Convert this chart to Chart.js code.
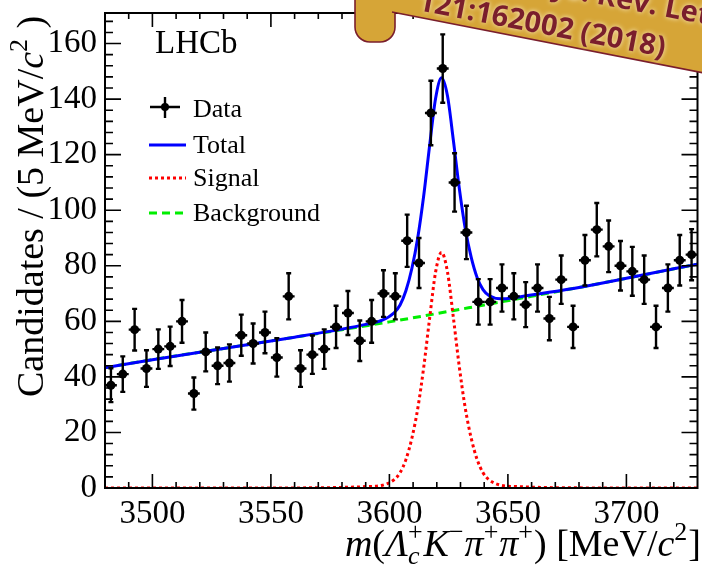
<!DOCTYPE html>
<html lang="en">
<head>
  <meta charset="UTF-8">
  <title>LHCb mass fit</title>
  <script src="https://cdn.jsdelivr.net/npm/chart.js"></script>
  <style>
    body {
      margin: 0;
      background: #fff;
    }
    canvas {
      display: block;
    }
  </style>
</head>
<body>
  <canvas id="massChart" width="702" height="567"></canvas>

  <script>
  // bin centres of the 5 MeV bins, MeV/c^2
  const binCenters = [3482.5, 3487.5, 3492.5, 3497.5, 3502.5, 3507.5, 3512.5, 3517.5, 3522.5, 3527.5,
                      3532.5, 3537.5, 3542.5, 3547.5, 3552.5, 3557.5, 3562.5, 3567.5, 3572.5, 3577.5,
                      3582.5, 3587.5, 3592.5, 3597.5, 3602.5, 3607.5, 3612.5, 3617.5, 3622.5, 3627.5,
                      3632.5, 3637.5, 3642.5, 3647.5, 3652.5, 3657.5, 3662.5, 3667.5, 3672.5, 3677.5,
                      3682.5, 3687.5, 3692.5, 3697.5, 3702.5, 3707.5, 3712.5, 3717.5, 3722.5, 3727.5];
  const candidates = [37, 41, 57, 43, 50, 51, 60, 34, 49, 44,
                      45, 55, 52, 56, 47, 69, 43, 48, 50, 58,
                      63, 53, 60, 70, 69, 89, 81, 135, 151, 110,
                      92, 67, 67, 72, 69, 66, 72, 61, 75, 58,
                      82, 93, 87, 80, 78, 75, 58, 72, 82, 84];
  const candErrors = [6.1, 6.4, 7.5, 6.6, 7.1, 7.1, 7.7, 5.8, 7.0, 6.6,
                      6.7, 7.4, 7.2, 7.5, 6.9, 8.3, 6.6, 6.9, 7.1, 7.6,
                      7.9, 7.3, 7.7, 8.4, 8.3, 9.4, 9.0, 11.6, 12.3, 10.5,
                      9.6, 8.2, 8.2, 8.5, 8.3, 8.1, 8.5, 7.8, 8.7, 7.6,
                      9.1, 9.6, 9.3, 8.9, 8.8, 8.7, 7.6, 8.5, 9.1, 9.2];
  const binHalfWidth = 2.5;

  // fit curves
  const totalMass = [3480, 3500, 3520, 3540, 3560, 3580, 3590, 3597, 3602, 3604.5,
                     3607, 3609.5, 3612, 3614.5, 3617, 3619.5, 3622, 3624.5, 3627, 3629.5,
                     3632, 3634.5, 3637, 3639.5, 3642, 3647, 3654, 3664, 3680, 3700, 3730];
  const totalFit = [43.3, 46.2, 48.9, 51.6, 54.3, 57.2, 58.9, 60.4, 63.1, 65.9,
                    71.1, 79.1, 90.3, 105.4, 123.5, 140.3, 147.7, 141.2, 125.1, 107.8,
                    93.4, 83.1, 75.8, 71.4, 69.3, 68.1, 68.7, 70.0, 72.2, 75.5, 80.6];

  const signalMass = [3480, 3550, 3570, 3580, 3590, 3597, 3602, 3604.5, 3607, 3609.5,
                      3612, 3614.5, 3617, 3619.5, 3622, 3624.5, 3627, 3629.5, 3632, 3634.5,
                      3637, 3639.5, 3642, 3647, 3654, 3664, 3674, 3694, 3730];
  const signalFit = [0, 0.02, 0.08, 0.2, 0.5, 1.0, 3.0, 5.5, 10.3, 18.0,
                     28.8, 43.6, 61.3, 77.8, 84.8, 77.8, 61.3, 43.6, 28.8, 18.0,
                     10.3, 5.5, 3.0, 1.0, 0.5, 0.2, 0.08, 0.02, 0];

  const bkgMass = [3480, 3500, 3520, 3540, 3560, 3580, 3600, 3620, 3640, 3660, 3680, 3700, 3730];
  const bkgFit = [43.3, 46.2, 48.9, 51.6, 54.3, 57.0, 59.8, 62.8, 65.9, 69.0, 72.2, 75.5, 80.6];

  // axis tick labels
  const massTicks = [3500, 3550, 3600, 3650, 3700];
  const countTicks = [0, 20, 40, 60, 80, 100, 120, 140, 160];

  const serif = '"Liberation Serif", "Times New Roman", serif';

  function toPoints(xs, ys) {
    return xs.map((x, i) => ({ x: x, y: ys[i] }));
  }

  // draws text made of pieces (italic, sub/superscripts); returns its width
  function drawRich(ctx, parts, x, y, size, draw) {
    const small = Math.round(size * 0.68);
    let cx = x;
    for (const p of parts) {
      if (p.sub !== undefined || p.sup !== undefined) {
        let w = 0;
        if (p.sup !== undefined) {
          ctx.font = small + "px " + serif;
          if (draw) ctx.fillText(p.sup, cx, y - size * 0.42);
          w = Math.max(w, ctx.measureText(p.sup).width);
        }
        if (p.sub !== undefined) {
          ctx.font = "italic " + small + "px " + serif;
          if (draw) ctx.fillText(p.sub, cx, y + size * 0.22);
          w = Math.max(w, ctx.measureText(p.sub).width);
        }
        cx += w + 1;
      } else {
        ctx.font = (p.i ? "italic " : "") + size + "px " + serif;
        if (draw) ctx.fillText(p.t, cx, y);
        cx += ctx.measureText(p.t).width;
      }
    }
    return cx - x;
  }

  const xTitle = [
    { t: "m", i: true }, { t: "(" }, { t: "Λ", i: true }, { sub: "c", sup: "+" },
    { t: "K", i: true }, { sup: "−" }, { t: "π", i: true }, { sup: "+" },
    { t: "π", i: true }, { sup: "+" }, { t: ")" }, { t: " [MeV/" }, { t: "c", i: true },
    { sup: "2" }, { t: "]" }
  ];
  const yTitle = [{ t: "Candidates / (5 MeV/" }, { t: "c", i: true }, { sup: "2" }, { t: " )" }];

  const errorBars = {
    id: "errorBars",
    afterDatasetsDraw(chart) {
      const { ctx, scales: { x, y } } = chart;
      ctx.save();
      ctx.strokeStyle = "#000";
      ctx.lineWidth = 2.4;
      binCenters.forEach((m, i) => {
        const px = x.getPixelForValue(m);
        const py = y.getPixelForValue(candidates[i]);
        const top = y.getPixelForValue(candidates[i] + candErrors[i]);
        const bot = y.getPixelForValue(candidates[i] - candErrors[i]);
        ctx.beginPath();
        ctx.moveTo(px, top); ctx.lineTo(px, bot);
        ctx.moveTo(px - 2.5, top); ctx.lineTo(px + 2.5, top);
        ctx.moveTo(px - 2.5, bot); ctx.lineTo(px + 2.5, bot);
        ctx.moveTo(x.getPixelForValue(m - binHalfWidth), py);
        ctx.lineTo(x.getPixelForValue(m + binHalfWidth), py);
        ctx.stroke();
      });
      ctx.restore();
    }
  };

  const decorations = {
    id: "decorations",
    afterDraw(chart) {
      const { ctx, chartArea: a, scales: { x, y } } = chart;
      ctx.save();

      // frame with inward ticks on all four sides
      ctx.strokeStyle = "#000";
      ctx.lineWidth = 2;
      ctx.strokeRect(a.left, a.top, a.right - a.left, a.bottom - a.top);
      ctx.lineWidth = 1.6;
      ctx.beginPath();
      for (let v = 3490; v < 3730; v += 10) {
        const px = x.getPixelForValue(v);
        const len = v % 50 === 0 ? 14 : 6;
        ctx.moveTo(px, a.bottom); ctx.lineTo(px, a.bottom - len);
        ctx.moveTo(px, a.top); ctx.lineTo(px, a.top + len);
      }
      for (let v = 4; v < 171; v += 4) {
        const py = y.getPixelForValue(v);
        const len = v % 20 === 0 ? 16 : 8;
        ctx.moveTo(a.left, py); ctx.lineTo(a.left + len, py);
        ctx.moveTo(a.right, py); ctx.lineTo(a.right - len, py);
      }
      ctx.stroke();

      // LHCb label and legend
      ctx.fillStyle = "#000";
      ctx.textBaseline = "alphabetic";
      ctx.textAlign = "left";
      ctx.font = "33px " + serif;
      ctx.fillText("LHCb", 155, 53);

      const rows = [117, 153, 186, 221];
      chart.data.datasets.forEach((ds, i) => {
        const ty = rows[i];
        const sy = ty - (i === 0 ? 10 : 8);
        ctx.save();
        if (i === 0) {
          ctx.strokeStyle = "#000";
          ctx.lineWidth = 2.4;
          ctx.beginPath();
          ctx.moveTo(150, sy); ctx.lineTo(180, sy);
          ctx.moveTo(165, sy - 10); ctx.lineTo(165, sy + 11);
          ctx.stroke();
          ctx.beginPath();
          ctx.arc(165, sy, 4, 0, Math.PI * 2);
          ctx.fill();
        } else {
          ctx.strokeStyle = ds.borderColor;
          ctx.lineWidth = ds.borderWidth;
          ctx.setLineDash(ds.borderDash || []);
          ctx.beginPath();
          ctx.moveTo(149, sy); ctx.lineTo(186, sy);
          ctx.stroke();
        }
        ctx.restore();
        ctx.font = "26px " + serif;
        ctx.fillText(ds.label, 193, ty);
      });

      // axis titles
      const xs = 38;
      const w = drawRich(ctx, xTitle, 0, 0, xs, false);
      drawRich(ctx, xTitle, 701 - w, 556, xs, true);

      ctx.save();
      ctx.translate(43, 397);
      ctx.rotate(-Math.PI / 2);
      drawRich(ctx, yTitle, 0, 0, 38, true);
      ctx.restore();

      // journal banner in the top right corner
      ctx.fillStyle = "#d6a537";
      ctx.strokeStyle = "#7a1e2c";
      ctx.lineWidth = 1.6;
      ctx.beginPath();
      ctx.roundRect(355, -30, 40, 72, 15);
      ctx.fill();
      ctx.stroke();
      ctx.beginPath();
      ctx.moveTo(392, -2); ctx.lineTo(392, 12); ctx.lineTo(704, 73); ctx.lineTo(704, -2);
      ctx.closePath();
      ctx.fill();
      ctx.beginPath();
      ctx.moveTo(392, 12); ctx.lineTo(704, 73);
      ctx.stroke();

      ctx.translate(417, 10);
      ctx.rotate(10.8 * Math.PI / 180);
      ctx.font = 'bold 29px "Open Sans", sans-serif';
      ctx.fillStyle = "#7a1e2c";
      ctx.shadowColor = "rgba(255, 246, 214, 0.95)";
      ctx.shadowBlur = 5;
      ctx.textAlign = "left";
      ctx.fillText("121:162002 (2018)", 0, 0);
      ctx.textAlign = "right";
      ctx.fillText("Phys. Rev. Lett.", 310, -40);
      ctx.restore();
    }
  };

  function fixedTicks(values) {
    return function (s) {
      s.ticks = values.map(v => ({ value: v }));
    };
  }

  const ctx = document.getElementById("massChart").getContext("2d");
  new Chart(ctx, {
    type: "scatter",
    data: {
      datasets: [
        {
          label: "Data",
          data: toPoints(binCenters, candidates),
          pointRadius: 4.5,
          pointBackgroundColor: "#000",
          pointBorderWidth: 0,
          showLine: false,
          order: 0
        },
        {
          label: "Total",
          data: toPoints(totalMass, totalFit),
          showLine: true,
          borderColor: "#0000ff",
          borderWidth: 3,
          pointRadius: 0,
          cubicInterpolationMode: "monotone",
          order: 1
        },
        {
          label: "Signal",
          data: toPoints(signalMass, signalFit),
          showLine: true,
          borderColor: "#ff0000",
          borderWidth: 3,
          borderDash: [3, 3],
          pointRadius: 0,
          cubicInterpolationMode: "monotone",
          order: 2
        },
        {
          label: "Background",
          data: toPoints(bkgMass, bkgFit),
          showLine: true,
          borderColor: "#00ee00",
          borderWidth: 3,
          borderDash: [8, 5],
          pointRadius: 0,
          cubicInterpolationMode: "monotone",
          order: 3
        }
      ]
    },
    options: {
      responsive: false,
      animation: false,
      layout: { padding: { top: 13, right: 2, left: 0, bottom: 0 } },
      scales: {
        x: {
          type: "linear",
          min: 3480,
          max: 3730,
          grid: { display: false, drawTicks: false },
          border: { display: false },
          afterBuildTicks: fixedTicks(massTicks),
          ticks: {
            maxRotation: 0,
            autoSkip: false,
            padding: 7,
            color: "#000",
            font: { family: serif, size: 33 },
            callback: v => String(v)
          },
          afterFit(s) {
            s.height = 79;
            s.paddingLeft = 0;
            s.paddingRight = 0;
          }
        },
        y: {
          min: 0,
          max: 171,
          grid: { display: false, drawTicks: false },
          border: { display: false },
          afterBuildTicks: fixedTicks(countTicks),
          ticks: {
            autoSkip: false,
            padding: 8,
            color: "#000",
            font: { family: serif, size: 33 },
            callback: v => String(v)
          },
          afterFit(s) {
            s.width = 105;
            s.paddingTop = 0;
            s.paddingBottom = 0;
          }
        }
      },
      plugins: {
        legend: { display: false },
        tooltip: { enabled: false }
      }
    },
    plugins: [errorBars, decorations]
  });
  </script>
</body>
</html>
